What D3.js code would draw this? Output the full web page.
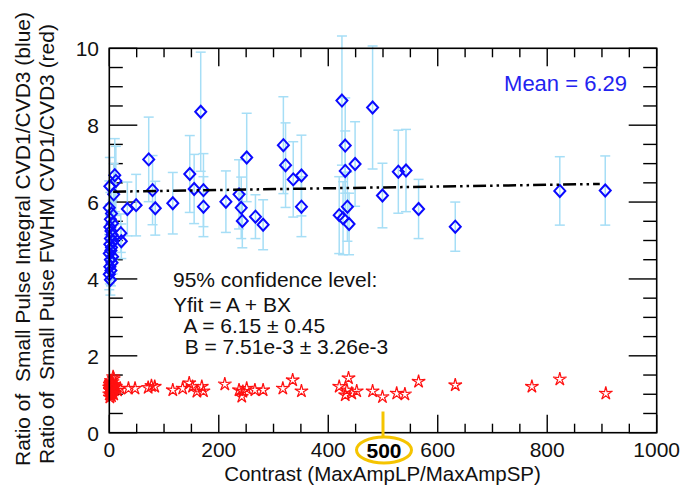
<!DOCTYPE html>
<html>
<head>
<meta charset="utf-8">
<script src="https://cdn.jsdelivr.net/npm/d3@7/dist/d3.min.js"></script>
<style>
    html, body { margin: 0; padding: 0; background: #fff; }
    .chart text { font-family: "Liberation Sans", Arial, Helvetica, sans-serif; white-space: pre; }
</style>
</head>
<body>
<div class="chart"></div>
<script>
// blue: integral ratio (x, y, error)
let blueX = [1, 10, 0, 4, 2, 6, 1, 3, 5, 2, 7, 1, 4, 3, 0, 6, 2, 5, 1, 3, 0, 2, 21, 22, 8, 12,
    33, 49, 72, 79, 84, 116, 147, 155, 167, 172, 172, 213, 237, 241, 243, 251, 267, 281,
    318, 322, 336, 351, 351, 420, 425, 427, 431, 431, 435, 438, 449, 481, 499, 528, 542,
    565, 632, 823, 906]
let blueY = [6.41, 6.70, 5.85, 5.70, 5.55, 5.45, 5.35, 5.25, 5.15, 5.05, 4.98, 4.90, 4.82, 4.74,
    4.66, 4.58, 4.50, 4.42, 4.32, 4.22, 4.12, 3.98, 5.19, 4.98, 6.20, 6.55,
    5.82, 5.92, 7.11, 6.31, 5.84, 5.97, 6.73, 6.34, 8.35, 6.31, 5.88, 6.01, 6.20, 5.85, 5.51,
    7.16, 5.62, 5.41, 7.48, 6.96, 6.59, 6.69, 5.88, 5.66, 8.64, 5.58, 7.47, 6.81, 5.88, 5.43,
    6.99, 8.46, 6.17, 6.79, 6.82, 5.82, 5.36, 6.29, 6.30]
let blueErr = [0.75, 0.95, 0.7, 0.65, 0.7, 0.6, 0.6, 0.55, 0.6, 0.55, 0.5, 0.55, 0.5, 0.5,
    0.5, 0.45, 0.5, 0.45, 0.45, 0.4, 0.4, 0.4, 0.5, 0.45, 0.8, 0.9,
    0.7, 0.8, 1.1, 0.9, 0.7, 0.8, 1.0, 0.9, 1.55, 0.95, 0.78, 0.8, 0.9, 0.8, 0.7,
    1.15, 0.57, 0.65, 1.26, 1.1, 0.98, 1.05, 0.78, 1.0, 1.68, 0.95, 1.24, 1.04, 0.9, 0.8,
    1.1, 1.6, 0.84, 1.08, 1.07, 0.77, 0.64, 0.89, 0.9]

// red: FWHM ratio
let redX = [0, 1, 2, 3, 4, 5, 6, 7, 8, 9, 10, 2, 3, 4, 5, 1, 6, 7, 8, 12, 15, 20,
    0, 1, 3, 2, 5, 4, 6, 1,
    35, 47, 71, 77, 83, 116, 134, 146, 152, 160, 169, 172, 211, 237, 244, 242, 251, 266, 281,
    317, 335, 351, 420, 437, 434, 452, 431, 443, 481, 499, 525, 540, 565, 632, 772, 823, 907]
let redY = [1.00, 1.10, 1.20, 1.30, 0.95, 1.05, 1.15, 1.25, 1.40, 1.10, 1.20, 1.00, 1.35, 1.15,
    1.05, 1.25, 1.10, 1.45, 1.00, 1.20, 1.10, 1.15,
    1.18, 0.92, 1.08, 1.28, 1.22, 1.02, 1.32, 1.12,
    1.15, 1.15, 1.17, 1.22, 1.20, 1.11, 1.15, 1.29, 1.20, 1.07, 1.20, 1.08, 1.26, 1.11, 1.07,
    0.94, 1.15, 1.11, 1.11, 1.15, 1.37, 1.08, 1.20, 1.42, 1.11, 1.08, 0.98, 1.02, 1.08, 0.93,
    1.02, 1.00, 1.33, 1.24, 1.20, 1.39, 1.02]

// fit line end points
let fitX = [7, 896]
let fitY = [6.27, 6.47]

let xTickLabels = [0, 200, 400, 600, 800, 1000]
let yTickLabels = [0, 2, 4, 6, 8, 10]
let highlightX = 500
let meanText = "Mean = 6.29"
let fitText = ["95% confidence level:", "Yfit = A + BX", "  A = 6.15 \u00b1 0.45", "  B = 7.51e-3 \u00b1 3.26e-3"]
let yTitles = ["Ratio of  Small Pulse Integral CVD1/CVD3 (blue)", "Ratio of  Small Pulse FWHM CVD1/CVD3 (red)"]
let xTitle = "Contrast (MaxAmpLP/MaxAmpSP)"

let width = 680, height = 489
let plotLeft = 109.3, plotRight = 656.7, plotTop = 48.3, plotBottom = 432.7
let errColor = "#a6def6", blue = "#0a0aff", red = "#ff1010", gold = "#f5c400"

let x = d3.scaleLinear().domain([0, 1000]).range([plotLeft, plotRight])
let y = d3.scaleLinear().domain([0, 10]).range([plotBottom, plotTop])

// thin 5-point star, spikier than d3.symbolStar
let starPath = (r, ri) => {
    let pts = []
    for (let k = 0; k < 10; k++) {
        let a = -Math.PI / 2 + k * Math.PI / 5, rr = k % 2 == 0 ? r : ri
        pts.push([rr * Math.cos(a), rr * Math.sin(a)])
    }
    return "M" + pts.map((p) => p[0].toFixed(2) + "," + p[1].toFixed(2)).join("L") + "Z"
}

let svg = d3.select(".chart")
    .append("svg")
    .attr("width", width)
    .attr("height", height)

// ticks on all four sides
let xMinor = d3.range(0, 1001, 50), yMinor = d3.range(0, 10.01, 0.5)
let ticks = svg.append("g").attr("stroke", "#000").attr("stroke-width", 1.4)
xMinor.forEach((v) => {
    let len = v % 200 == 0 ? 18 : 9
    ticks.append("line").attr("x1", x(v)).attr("x2", x(v)).attr("y1", plotBottom).attr("y2", plotBottom - len)
    ticks.append("line").attr("x1", x(v)).attr("x2", x(v)).attr("y1", plotTop).attr("y2", plotTop + len)
})
yMinor.forEach((v) => {
    let len = Math.abs(v % 2) < 1e-6 ? 28 : 13.5
    ticks.append("line").attr("x1", plotLeft).attr("x2", plotLeft + len).attr("y1", y(v)).attr("y2", y(v))
    ticks.append("line").attr("x1", plotRight).attr("x2", plotRight - len).attr("y1", y(v)).attr("y2", y(v))
})

// error bars
let bars = svg.append("g").attr("stroke", errColor).attr("stroke-width", 1.5)
blueX.forEach((v, i) => {
    let y0 = y(blueY[i] - blueErr[i]), y1 = y(blueY[i] + blueErr[i])
    bars.append("line").attr("x1", x(v)).attr("x2", x(v)).attr("y1", y0).attr("y2", y1)
    bars.append("line").attr("x1", x(v) - 5).attr("x2", x(v) + 5).attr("y1", y0).attr("y2", y0)
    bars.append("line").attr("x1", x(v) - 5).attr("x2", x(v) + 5).attr("y1", y1).attr("y2", y1)
})

// diamonds
svg.append("g")
    .selectAll("path")
    .data(blueX)
    .enter()
    .append("path")
    .attr("d", (d, i) => {
        let cx = x(d), cy = y(blueY[i])
        return `M${cx},${cy - 6} L${cx + 5.5},${cy} L${cx},${cy + 6} L${cx - 5.5},${cy} Z`
    })
    .attr("fill", "none")
    .attr("stroke", blue)
    .attr("stroke-width", 2)

// fit line
svg.append("path")
    .datum(fitX.map((d, i) => [d, fitY[i]]))
    .attr("d", d3.line().x((d) => x(d[0])).y((d) => y(d[1])))
    .attr("fill", "none")
    .attr("stroke", "#000")
    .attr("stroke-width", 2.5)
    .attr("stroke-dasharray", "13,4,2.5,4,2.5,4")

// red stars
svg.append("g")
    .selectAll("path")
    .data(redX)
    .enter()
    .append("path")
    .attr("d", starPath(7, 2.2))
    .attr("transform", (d, i) => `translate(${x(d)},${y(redY[i])})`)
    .attr("fill", "none")
    .attr("stroke", red)
    .attr("stroke-width", 1.2)

// frame
svg.append("rect")
    .attr("x", plotLeft).attr("y", plotTop)
    .attr("width", plotRight - plotLeft).attr("height", plotBottom - plotTop)
    .attr("fill", "none")
    .attr("stroke", "#000")
    .attr("stroke-width", 1.6)

// tick labels
svg.append("g")
    .selectAll("text")
    .data(xTickLabels)
    .enter()
    .append("text")
    .attr("x", (d) => x(d))
    .attr("y", 457)
    .attr("text-anchor", "middle")
    .attr("font-size", 21)
    .attr("fill", "#111")
    .text((d) => d)
svg.append("g")
    .selectAll("text")
    .data(yTickLabels)
    .enter()
    .append("text")
    .attr("x", 99)
    .attr("y", (d) => y(d) + 8)
    .attr("text-anchor", "end")
    .attr("font-size", 21)
    .attr("fill", "#111")
    .text((d) => d)

// highlighted 500
svg.append("line")
    .attr("x1", x(highlightX)).attr("x2", x(highlightX))
    .attr("y1", 411.5).attr("y2", 437)
    .attr("stroke", gold).attr("stroke-width", 3)
svg.append("ellipse")
    .attr("cx", x(highlightX) + 1).attr("cy", 450)
    .attr("rx", 27.5).attr("ry", 13)
    .attr("fill", "none").attr("stroke", gold).attr("stroke-width", 3)
svg.append("text")
    .attr("x", x(highlightX) + 1)
    .attr("y", 458)
    .attr("text-anchor", "middle")
    .attr("font-size", 21)
    .attr("font-weight", "bold")
    .attr("fill", "#000")
    .text(highlightX)

// titles
svg.append("text")
    .attr("x", 382.5)
    .attr("y", 481)
    .attr("text-anchor", "middle")
    .attr("font-size", 20.5)
    .attr("fill", "#111")
    .text(xTitle)
svg.append("g")
    .selectAll("text")
    .data(yTitles)
    .enter()
    .append("text")
    .attr("transform", (d, i) => `translate(${i == 0 ? 30 : 54},${i == 0 ? 239 : 244}) rotate(-90)`)
    .attr("text-anchor", "middle")
    .attr("font-size", 21)
    .attr("fill", "#111")
    .text((d) => d)

svg.append("text")
    .attr("x", 627)
    .attr("y", 91)
    .attr("text-anchor", "end")
    .attr("font-size", 22)
    .attr("fill", "#2323f0")
    .text(meanText)

let fitY0 = [287, 312, 333, 354]
svg.append("g")
    .selectAll("text")
    .data(fitText)
    .enter()
    .append("text")
    .attr("x", 173)
    .attr("y", (d, i) => fitY0[i])
    .attr("font-size", 21)
    .attr("fill", "#111")
    .text((d) => d)
</script>
</body>
</html>
